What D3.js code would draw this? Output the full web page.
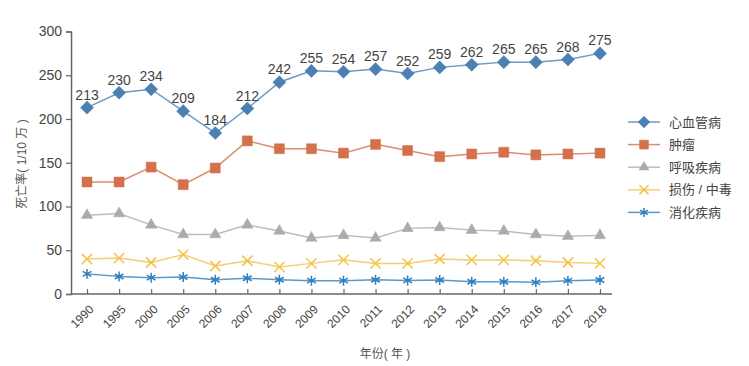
<!DOCTYPE html>
<html>
<head>
<meta charset="utf-8">
<script src="https://cdn.jsdelivr.net/npm/d3@7"></script>
<style>
  body { margin: 0; background: #fff; }
  svg { display: block; font-family: "Liberation Sans", "Noto Sans CJK SC", sans-serif; }
</style>
</head>
<body>
<div id="chart"></div>
<script>
// Data
const years = ["1990", "1995", "2000", "2005", "2006", "2007", "2008", "2009", "2010",
  "2011", "2012", "2013", "2014", "2015", "2016", "2017", "2018"];
const cardio = [213, 230, 234, 209, 184, 212, 242, 255, 254, 257, 252, 259, 262, 265, 265, 268, 275];
const tumor = [128, 128, 145, 125, 144, 175, 166, 166, 161, 171, 164, 157, 160, 162, 159, 160, 161];
const respiratory = [90, 92, 79, 68, 68, 79, 72, 64, 67, 64, 75, 76, 73, 72, 68, 66, 67];
const injury = [40, 41, 36, 45, 32, 38, 31, 35, 39, 35, 35, 40, 39, 39, 38, 36, 35];
const digestive = [23, 20, 18.6, 19.4, 16.3, 18, 16.3, 15.2, 15.2, 16.3, 15.5, 16, 14, 14, 13.3, 15.2, 16];
const yTicks = [0, 50, 100, 150, 200, 250, 300];

const series = [
  { name: "心血管病", values: cardio, color: "#4a80b2", symbol: d3.symbolDiamond2, size: 110, fill: true },
  { name: "肿瘤", values: tumor, color: "#d3714b", symbol: d3.symbolSquare, size: 100, fill: true },
  { name: "呼吸疾病", values: respiratory, color: "#a9abae", symbol: d3.symbolTriangle, size: 55, fill: true },
  { name: "损伤 / 中毒", values: injury, color: "#f3c24a", symbol: d3.symbolX, size: 70, fill: false },
  { name: "消化疾病", values: digestive, color: "#2f7fbf", symbol: d3.symbolAsterisk, size: 70, fill: false }
];

const W = 749, H = 366;
const svg = d3.select("#chart").append("svg").attr("width", W).attr("height", H);

const x = d3.scalePoint().domain(years).range([71, 616]).padding(0.5);
const y = d3.scaleLinear().domain([0, 300]).range([294, 31.5]);

// Y axis
const yAxis = svg.append("g")
  .attr("transform", "translate(71,0)")
  .call(d3.axisLeft(y).tickValues(yTicks).tickSize(5).tickPadding(4));
yAxis.select(".domain").attr("stroke", "#666").attr("stroke-width", 1.5);
yAxis.selectAll(".tick line").attr("stroke", "#666").attr("stroke-width", 1.2);
yAxis.selectAll(".tick text").attr("fill", "#444").attr("font-size", 14);

// X axis
const xAxis = svg.append("g")
  .attr("transform", "translate(0,294)")
  .call(d3.axisBottom(x).tickSizeInner(-5).tickSizeOuter(0));
xAxis.select(".domain").attr("stroke", "#666").attr("stroke-width", 1.5)
  .attr("d", "M71,0H612");
xAxis.selectAll(".tick line").attr("stroke", "#666").attr("stroke-width", 1.2);
xAxis.selectAll(".tick text")
  .attr("fill", "#444")
  .attr("font-size", 12)
  .attr("text-anchor", "end")
  .attr("x", 0)
  .attr("y", 0)
  .attr("dy", "0.35em")
  .attr("transform", "translate(4,13) rotate(-45)");

// Axis titles
svg.append("text")
  .attr("transform", "translate(26,164) rotate(-90)")
  .attr("text-anchor", "middle")
  .attr("fill", "#555")
  .attr("font-size", 12)
  .text("死亡率( 1/10 万 )");

svg.append("text")
  .attr("x", 385)
  .attr("y", 358)
  .attr("text-anchor", "middle")
  .attr("fill", "#555")
  .attr("font-size", 12)
  .text("年份( 年 )");

// Lines and markers
const line = d3.line().x((d, i) => x(years[i])).y((d) => y(d));

series.forEach((s) => {
  svg.append("path")
    .datum(s.values)
    .attr("fill", "none")
    .attr("stroke", s.color)
    .attr("stroke-opacity", 0.8)
    .attr("stroke-width", 1.5)
    .attr("d", line);

  svg.selectAll(null)
    .data(s.values)
    .enter()
    .append("path")
    .attr("transform", (d, i) => `translate(${x(years[i])},${y(d)})`)
    .attr("d", d3.symbol().type(s.symbol).size(s.size))
    .attr("fill", s.fill ? s.color : "none")
    .attr("stroke", s.color)
    .attr("stroke-width", s.fill ? 0.5 : 1.5);
});

// Value labels for 心血管病
svg.selectAll(".vlabel")
  .data(cardio)
  .enter()
  .append("text")
  .attr("class", "vlabel")
  .attr("x", (d, i) => x(years[i]))
  .attr("y", (d) => y(d) - 8)
  .attr("text-anchor", "middle")
  .attr("fill", "#444")
  .attr("font-size", 14)
  .text((d) => d);

// Legend
const legend = svg.append("g").attr("transform", "translate(628,122)");
series.forEach((s, i) => {
  const g = legend.append("g").attr("transform", `translate(0,${i * 22.6})`);
  g.append("line")
    .attr("x1", 0).attr("x2", 32)
    .attr("stroke", s.color)
    .attr("stroke-opacity", 0.8)
    .attr("stroke-width", 1.5);
  g.append("path")
    .attr("transform", "translate(16,0)")
    .attr("d", d3.symbol().type(s.symbol).size(s.size * 0.8))
    .attr("fill", s.fill ? s.color : "none")
    .attr("stroke", s.color)
    .attr("stroke-width", s.fill ? 0.5 : 1.5);
  g.append("text")
    .attr("x", 41)
    .attr("y", 0)
    .attr("dy", "0.35em")
    .attr("fill", "#444")
    .attr("font-size", 13)
    .text(s.name);
});
</script>
</body>
</html>
